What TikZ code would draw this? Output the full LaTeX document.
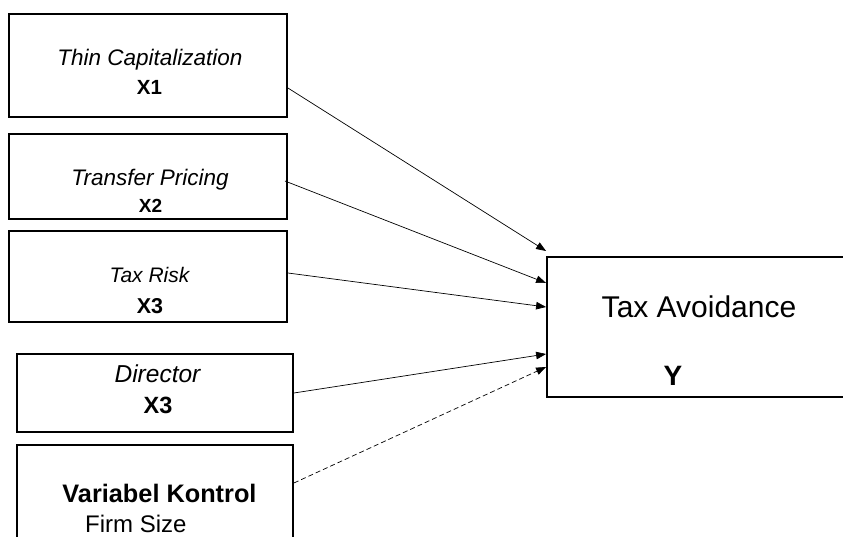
\documentclass[tikz,border=0pt]{standalone}
\usepackage{fontspec}
\setmainfont{Liberation Sans}
\usetikzlibrary{arrows.meta}
\begin{document}
\begin{tikzpicture}[x=1pt,y=-1pt,
  box/.style={draw=black,line width=1.8pt,inner sep=0pt,fill=none},
  lbl/.style={anchor=base,inner sep=0pt},
  link/.style={line width=0.7pt,-{Triangle[length=10pt,width=7.5pt]}},
  fs/.style={font=\fontsize{#1}{#1}\selectfont}]
\useasboundingbox (0,0) rectangle (843,537);
\clip (0,0) rectangle (843,537);
\fill[white] (0,0) rectangle (843,537);
% boxes
\node[box,minimum width=278pt,minimum height=103pt] (b1) at (148,65.5) {};
\node[box,minimum width=278pt,minimum height=85pt] (b2) at (148,176.5) {};
\node[box,minimum width=278pt,minimum height=91pt] (b3) at (148,276.5) {};
\node[box,minimum width=276pt,minimum height=78pt] (b4) at (155,393) {};
\node[box,minimum width=276pt,minimum height=100pt] (b5) at (155,495) {};
\node[box,minimum width=303pt,minimum height=140pt] (ty) at (698.5,327) {};
% labels
\node[lbl,fs=22.5pt] (t1) at (150,66) {\itshape Thin Capitalization};
\node[lbl,fs=20.5pt] (x1) at (149.5,95) {\bfseries X1};
\node[lbl,fs=22.5pt] (t2) at (150,186) {\itshape Transfer Pricing};
\node[lbl,fs=19pt] (x2) at (150.5,213) {\bfseries X2};
\node[lbl,fs=21pt] (t3) at (149.5,283) {\itshape Tax Risk};
\node[lbl,fs=21.5pt] (x3) at (150,313) {\bfseries X3};
\node[lbl,fs=24.5pt] (t4) at (157.5,382) {\itshape Director};
\node[lbl,fs=23.5pt] (x4) at (158,413) {\bfseries X3};
\node[lbl,fs=25.3pt] (t5) at (159.5,502) {\bfseries Variabel Kontrol};
\node[lbl,fs=24pt,anchor=base west] (t6) at (85,532) {Firm Size};
\node[lbl,fs=30pt] (ta) at (699,317) {Tax Avoidance};
\node[lbl,fs=28pt] (ylab) at (673,385) {\bfseries Y};
% connectors
\draw[link] ([yshift=-22.5pt]b1.east) -- ([yshift=76pt]ty.west);
\draw[link] ([xshift=-3pt,yshift=-4.5pt]b2.east) -- ([yshift=44pt]ty.west);
\draw[link] ([yshift=3.5pt]b3.east) -- ([yshift=20pt]ty.west);
\draw[link] (b4.east) -- ([yshift=-27pt]ty.west);
\draw[link,dashed,dash pattern=on 5pt off 3pt] ([yshift=12pt]b5.east) -- ([yshift=-40pt]ty.west);
\end{tikzpicture}
\end{document}
